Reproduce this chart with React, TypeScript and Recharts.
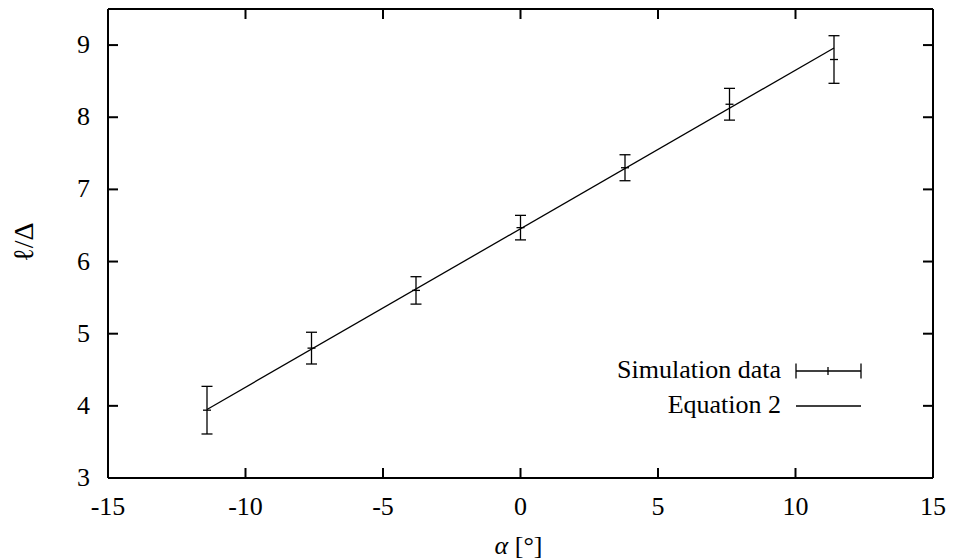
import { ComposedChart, Line, Scatter, ErrorBar, XAxis, YAxis, Legend } from 'recharts';

// simulation results
const alphaDeg = [-11.4, -7.6, -3.8, 0, 3.8, 7.6, 11.4];
const ellOverDelta = [3.94, 4.8, 5.6, 6.47, 7.3, 8.18, 8.8];
const errors = [0.33, 0.22, 0.19, 0.17, 0.18, 0.22, 0.33];

// Equation 2 (straight line) endpoints
const eqAlpha = [-11.4, 11.4];
const eqValue = [3.95, 8.96];

const xTicks = [-15, -10, -5, 0, 5, 10, 15];
const yTicks = [3, 4, 5, 6, 7, 8, 9];

const simData = alphaDeg.map((x, i) => ({ x, y: ellOverDelta[i], err: errors[i] }));
const eqData = eqAlpha.map((x, i) => ({ x, y: eqValue[i] }));

const FONT = '"Liberation Serif", "Times New Roman", serif';
const FS = 26;
const TICK_LEN = 10;

// gnuplot style: ticks point into the plot on all four sides
const BottomTick = (props: any) => {
  const { x, y, payload } = props;
  return (
    <g>
      <line x1={x} x2={x} y1={y} y2={y - TICK_LEN} stroke="#000" strokeWidth={2} />
      <text x={x} y={y + 37} textAnchor="middle" fontFamily={FONT} fontSize={FS} fill="#000">
        {payload.value}
      </text>
    </g>
  );
};

const LeftTick = (props: any) => {
  const { x, y, payload } = props;
  return (
    <g>
      <line x1={x} x2={x + TICK_LEN} y1={y} y2={y} stroke="#000" strokeWidth={2} />
      <text x={x - 18} y={y + 8} textAnchor="end" fontFamily={FONT} fontSize={FS} fill="#000">
        {payload.value}
      </text>
    </g>
  );
};

const TopTick = (props: any) => {
  const { x, y } = props;
  return <line x1={x} x2={x} y1={y} y2={y + TICK_LEN} stroke="#000" strokeWidth={2} />;
};

const RightTick = (props: any) => {
  const { x, y } = props;
  return <line x1={x} x2={x - TICK_LEN} y1={y} y2={y} stroke="#000" strokeWidth={2} />;
};

const PointMark = (props: any) => {
  const { cx, cy } = props;
  return <line x1={cx - 4} x2={cx + 4} y1={cy} y2={cy} stroke="#000" strokeWidth={1.3} />;
};

const KeyBox = (props: any) => {
  const items = [...(props.payload || [])].sort((a: any, b: any) => (a.type === 'cross' ? -1 : 0) - (b.type === 'cross' ? -1 : 0));
  return (
    <svg width={290} height={80} style={{ display: 'block' }}>
      {items.map((item: any, i: number) => {
        const cy = 16 + i * 35;
        return (
          <g key={item.value}>
            <text x={191} y={cy + 7} textAnchor="end" fontFamily={FONT} fontSize={FS} fill="#000">
              {item.value}
            </text>
            <line x1={206} x2={271} y1={cy} y2={cy} stroke="#000" strokeWidth={1.3} />
            {item.type === 'cross' && (
              <>
                <line x1={206} x2={206} y1={cy - 7.5} y2={cy + 7.5} stroke="#000" strokeWidth={1.3} />
                <line x1={271} x2={271} y1={cy - 7.5} y2={cy + 7.5} stroke="#000" strokeWidth={1.3} />
                <line x1={238} x2={238} y1={cy - 4} y2={cy + 4} stroke="#000" strokeWidth={1.3} />
              </>
            )}
          </g>
        );
      })}
    </svg>
  );
};

export default function App() {
  return (
    <div style={{ position: 'absolute', left: 0, top: 0, width: 954, height: 560, background: '#fff' }}>
      <ComposedChart width={954} height={560} margin={{ top: 8, right: 20, bottom: 0, left: 0 }}>
        <XAxis
          xAxisId="bottom"
          dataKey="x"
          type="number"
          domain={[-15, 15]}
          ticks={xTicks}
          allowDataOverflow
          height={82}
          tickSize={0}
          tickMargin={0}
          tickLine={false}
          tick={<BottomTick />}
          stroke="#000"
          strokeWidth={2}
          label={(p: any) => {
            const vb = p.viewBox;
            return (
              <text x={vb.x + vb.width / 2 - 2} y={vb.y + 76} textAnchor="middle" fontFamily={FONT} fontSize={FS} fill="#000">
                <tspan fontStyle="italic">α</tspan>
                <tspan> [°]</tspan>
              </text>
            );
          }}
        />
        <XAxis
          xAxisId="top"
          dataKey="x"
          orientation="top"
          type="number"
          domain={[-15, 15]}
          ticks={xTicks}
          allowDataOverflow
          height={1}
          tickSize={0}
          tickMargin={0}
          tickLine={false}
          tick={<TopTick />}
          stroke="#000"
          strokeWidth={2}
        />
        <YAxis
          yAxisId="left"
          dataKey="y"
          type="number"
          domain={[3, 9.5]}
          ticks={yTicks}
          allowDataOverflow
          width={108}
          tickSize={0}
          tickMargin={0}
          tickLine={false}
          tick={<LeftTick />}
          stroke="#000"
          strokeWidth={2}
          label={(p: any) => {
            const vb = p.viewBox;
            const cx = 33;
            const cy = vb.y + 233;
            return (
              <text x={cx} y={cy} transform={`rotate(-90, ${cx}, ${cy})`} textAnchor="middle" fontFamily={FONT} fontSize={28} fill="#000">
                ℓ/Δ
              </text>
            );
          }}
        />
        <YAxis
          yAxisId="right"
          dataKey="y"
          orientation="right"
          type="number"
          domain={[3, 9.5]}
          ticks={yTicks}
          allowDataOverflow
          width={1}
          tickSize={0}
          tickMargin={0}
          tickLine={false}
          tick={<RightTick />}
          stroke="#000"
          strokeWidth={2}
        />
        <Legend
          layout="vertical"
          align="center"
          verticalAlign="middle"
          content={<KeyBox />}
          wrapperStyle={{ position: 'absolute', left: 590, top: 355, width: 290, height: 80 }}
        />
        <Scatter
          name="Simulation data"
          data={simData}
          dataKey="y"
          xAxisId="bottom"
          yAxisId="left"
          legendType="cross"
          shape={<PointMark />}
          isAnimationActive={false}
        >
          <ErrorBar dataKey="err" direction="y" width={5.5} stroke="#000" strokeWidth={1.3} isAnimationActive={false} />
        </Scatter>
        <Line
          name="Equation 2"
          data={eqData}
          dataKey="y"
          xAxisId="top"
          yAxisId="right"
          type="linear"
          stroke="#000"
          strokeWidth={1.3}
          dot={false}
          activeDot={false}
          legendType="line"
          isAnimationActive={false}
        />
      </ComposedChart>
    </div>
  );
}
